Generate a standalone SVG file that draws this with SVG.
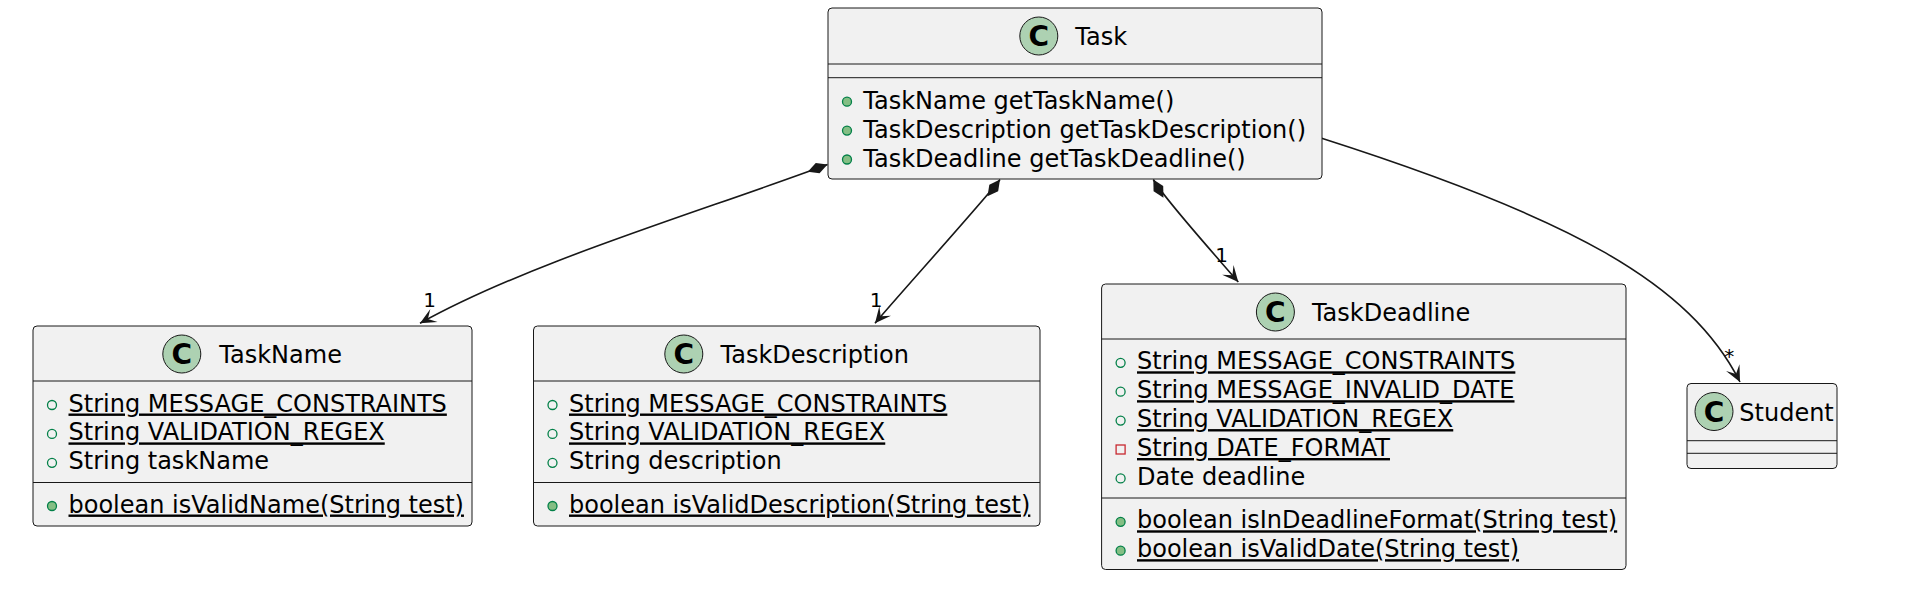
<svg xmlns="http://www.w3.org/2000/svg" width="1914" height="612" viewBox="0 0 1914 612">
<style>
.box{fill:#F1F1F1;stroke:#181818;stroke-width:1}
.sep{stroke:#181818;stroke-width:1}
.ico{fill:#ADD1B2;stroke:#181818;stroke-width:1}
.icoC{font-family:"DejaVu Sans",sans-serif;font-weight:bold;font-size:28px;fill:#000;text-anchor:middle}
.t{font-family:"DejaVu Sans",sans-serif;font-size:24px;fill:#000}
.u{text-decoration:underline;text-underline-offset:4px}
.pf{fill:none;stroke:#038048;stroke-width:1.3}
.pm{fill:#84BE84;stroke:#038048;stroke-width:1.3}
.pr{fill:none;stroke:#C82930;stroke-width:1.3}
.ln{fill:none;stroke:#181818;stroke-width:1.6}
.lbl{font-family:"DejaVu Sans",sans-serif;font-size:20px;fill:#000;text-anchor:middle}
</style>
<defs>
<marker id="diamond" markerUnits="userSpaceOnUse" viewBox="-25 -10 30 20" markerWidth="30" markerHeight="20" refX="0" refY="0" orient="auto-start-reverse" overflow="visible">
<path d="M0,0 L-10.5,-5.5 L-21,0 L-10.5,5.5 Z" fill="#181818"/>
</marker>
<marker id="arrow" markerUnits="userSpaceOnUse" viewBox="-20 -10 25 20" markerWidth="25" markerHeight="20" refX="0" refY="0" orient="auto" overflow="visible">
<path d="M0,0 L-16,-7.5 L-9,0 L-16,7.5 Z" fill="#181818"/>
</marker>
</defs>
<rect width="1914" height="612" fill="#FFFFFF"/>

<g id="connectors">
<path class="ln" d="M827.5,164.5 C700,212 530,262 420,323.3" marker-start="url(#diamond)" marker-end="url(#arrow)"/>
<text class="lbl" x="429.5" y="306.5">1</text>
<path class="ln" d="M1000,179.5 C987,197 890,305 875,323.3" marker-start="url(#diamond)" marker-end="url(#arrow)"/>
<text class="lbl" x="876" y="306.7">1</text>
<path class="ln" d="M1153.3,179.5 C1163,197 1215,255 1238.3,282" marker-start="url(#diamond)" marker-end="url(#arrow)"/>
<text class="lbl" x="1221.7" y="262">1</text>
<path class="ln" d="M1321.7,138.3 C1571,218 1690,283 1740,382" marker-end="url(#arrow)"/>
<text class="lbl" x="1729.3" y="363">*</text>
</g>

<g id="node-Task">
<rect class="box" x="828" y="8" width="494" height="171" rx="4"/>
<circle class="ico" cx="1038.8" cy="36" r="19"/>
<text class="icoC" x="1038.8" y="46.2">C</text>
<text class="t" x="1075.3" y="45.3">Task</text>
<line class="sep" x1="828" y1="64" x2="1322" y2="64"/>
<line class="sep" x1="828" y1="77.7" x2="1322" y2="77.7"/>
<circle class="pm" cx="847" cy="101.7" r="4.5"/>
<text class="t" x="863.3" y="108.7">TaskName getTaskName()</text>
<circle class="pm" cx="847" cy="130.6" r="4.5"/>
<text class="t" x="863.3" y="137.6">TaskDescription getTaskDescription()</text>
<circle class="pm" cx="847" cy="159.5" r="4.5"/>
<text class="t" x="863.3" y="166.5">TaskDeadline getTaskDeadline()</text>
</g>

<g id="node-TaskName">
<rect class="box" x="33" y="326" width="439" height="200" rx="4"/>
<circle class="ico" cx="181.8" cy="354" r="19"/>
<text class="icoC" x="181.8" y="364.2">C</text>
<text class="t" x="219.3" y="363.3">TaskName</text>
<line class="sep" x1="33" y1="381" x2="472" y2="381"/>
<circle class="pf" cx="52" cy="405" r="4.5"/>
<text class="t u" x="68.5" y="411.5">String MESSAGE_CONSTRAINTS</text>
<circle class="pf" cx="52" cy="433.9" r="4.5"/>
<text class="t u" x="68.5" y="440.4">String VALIDATION_REGEX</text>
<circle class="pf" cx="52" cy="462.8" r="4.5"/>
<text class="t" x="68.5" y="469.3">String taskName</text>
<line class="sep" x1="33" y1="482.5" x2="472" y2="482.5"/>
<circle class="pm" cx="52" cy="506" r="4.5"/>
<text class="t u" x="68.5" y="512.5">boolean isValidName(String test)</text>
</g>

<g id="node-TaskDescription">
<rect class="box" x="533.5" y="326" width="506.5" height="200" rx="4"/>
<circle class="ico" cx="683.8" cy="354" r="19"/>
<text class="icoC" x="683.8" y="364.2">C</text>
<text class="t" x="720.5" y="363.3">TaskDescription</text>
<line class="sep" x1="533.5" y1="381" x2="1040" y2="381"/>
<circle class="pf" cx="552.5" cy="405" r="4.5"/>
<text class="t u" x="569" y="411.5">String MESSAGE_CONSTRAINTS</text>
<circle class="pf" cx="552.5" cy="433.9" r="4.5"/>
<text class="t u" x="569" y="440.4">String VALIDATION_REGEX</text>
<circle class="pf" cx="552.5" cy="462.8" r="4.5"/>
<text class="t" x="569" y="469.3">String description</text>
<line class="sep" x1="533.5" y1="482.5" x2="1040" y2="482.5"/>
<circle class="pm" cx="552.5" cy="506" r="4.5"/>
<text class="t u" x="569" y="512.5">boolean isValidDescription(String test)</text>
</g>

<g id="node-TaskDeadline">
<rect class="box" x="1101.6" y="284" width="524.4" height="285.5" rx="4"/>
<circle class="ico" cx="1275.4" cy="312" r="19"/>
<text class="icoC" x="1275.4" y="322.2">C</text>
<text class="t" x="1311.9" y="321.3">TaskDeadline</text>
<line class="sep" x1="1101.6" y1="339" x2="1626" y2="339"/>
<circle class="pf" cx="1120.6" cy="362.8" r="4.5"/>
<text class="t u" x="1137" y="369.3">String MESSAGE_CONSTRAINTS</text>
<circle class="pf" cx="1120.6" cy="391.7" r="4.5"/>
<text class="t u" x="1137" y="398.2">String MESSAGE_INVALID_DATE</text>
<circle class="pf" cx="1120.6" cy="420.6" r="4.5"/>
<text class="t u" x="1137" y="427.1">String VALIDATION_REGEX</text>
<rect class="pr" x="1116.1" y="445" width="9" height="9"/>
<text class="t u" x="1137" y="456">String DATE_FORMAT</text>
<circle class="pf" cx="1120.6" cy="478.4" r="4.5"/>
<text class="t" x="1137" y="484.9">Date deadline</text>
<line class="sep" x1="1101.6" y1="498" x2="1626" y2="498"/>
<circle class="pm" cx="1120.6" cy="521.8" r="4.5"/>
<text class="t u" x="1137" y="528.3">boolean isInDeadlineFormat(String test)</text>
<circle class="pm" cx="1120.6" cy="550.7" r="4.5"/>
<text class="t u" x="1137" y="557.2">boolean isValidDate(String test)</text>
</g>

<g id="node-Student">
<rect class="box" x="1687" y="383.5" width="150" height="85" rx="4"/>
<circle class="ico" cx="1714" cy="411.5" r="19"/>
<text class="icoC" x="1714" y="421.7">C</text>
<text class="t" x="1739.3" y="420.8">Student</text>
<line class="sep" x1="1687" y1="440.7" x2="1837" y2="440.7"/>
<line class="sep" x1="1687" y1="453.3" x2="1837" y2="453.3"/>
</g>
</svg>
